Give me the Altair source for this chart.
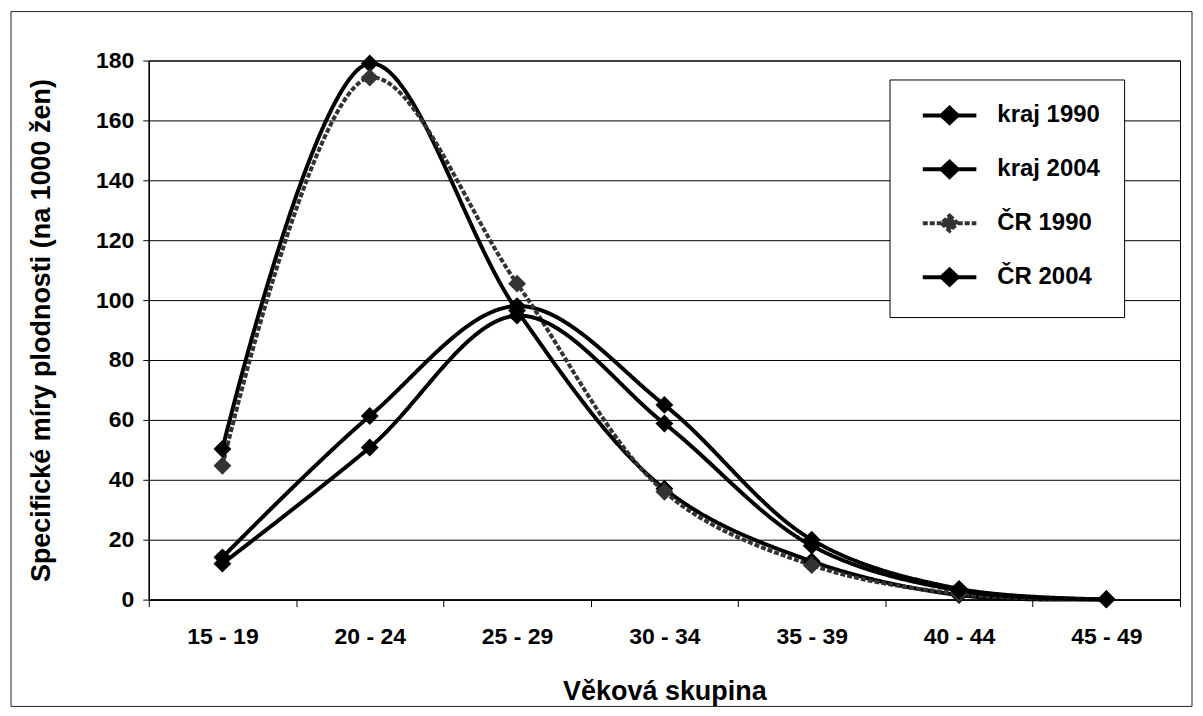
import altair as alt
import pandas as pd

groups = ["15 - 19", "20 - 24", "25 - 29", "30 - 34", "35 - 39", "40 - 44", "45 - 49"]
series = ["kraj 1990", "kraj 2004", "ČR 1990", "ČR 2004"]
kraj_1990 = [50.3, 179.0, 96.5, 37.0, 12.8, 1.5, 0.1]
kraj_2004 = [14.1, 61.3, 98.0, 65.0, 20.0, 3.6, 0.1]
cr_1990 = [44.7, 174.3, 105.5, 36.0, 11.5, 1.9, 0.1]
cr_2004 = [12.0, 50.8, 94.8, 58.8, 18.0, 3.0, 0.1]

rows = []
for s, vals in zip(series, [kraj_1990, kraj_2004, cr_1990, cr_2004]):
    for g, v in zip(groups, vals):
        rows.append({"grp": g, "series": s, "value": v})
df = pd.DataFrame(rows)

FONT = "Liberation Sans"
WEIGHT = "bold"
W, H = 1033, 540

x_enc = alt.X(
    "grp:N", sort=groups, bandPosition=0.5,
    scale=alt.Scale(type="band", paddingInner=0, paddingOuter=0),
    axis=alt.Axis(title="Věková skupina", tickBand="extent", labelAngle=0,
                  tickSize=7, labelPadding=19, titlePadding=30, grid=False,
                  labelFontSize=23, titleFontSize=27),
)
y_enc = alt.Y(
    "value:Q", scale=alt.Scale(domain=[0, 180]),
    axis=alt.Axis(title="Specifické míry plodnosti (na 1000 žen)", values=list(range(0, 181, 20)),
                  tickSize=6, labelPadding=9, titlePadding=40, grid=True,
                  labelFontSize=23, titleFontSize=27),
)

legend_path = "M-0.3,0H5.7M2.7,-0.85L3.6,0L2.7,0.85L1.8,0Z"

color_range = ["black", "black", "#333333", "black"]
color_enc = alt.Color(
    "series:N",
    scale=alt.Scale(domain=series, range=color_range),
    legend=alt.Legend(orient="none", legendX=742, legendY=19, title=None,
                      symbolType=legend_path, symbolSize=400, symbolFillColor="black",
                      labelFontSize=24, labelOffset=60, rowPadding=22, padding=24,
                      labelExpr="datum.label + '\u00a0\u00a0'",
                      strokeColor="black", fillColor="white", labelFont=FONT,
                      labelFontWeight=WEIGHT, labelColor="black"),
)
sw_enc = alt.StrokeWidth(
    "series:N", scale=alt.Scale(domain=series, range=[4, 4, 1.2, 4]), legend=None)
dash_enc = alt.StrokeDash(
    "series:N", scale=alt.Scale(domain=series, range=[[1, 0], [1, 0], [5, 2], [1, 0]]), legend=None)

lines = alt.Chart(df).mark_line(interpolate="catmull-rom").encode(
    x=x_enc, y=y_enc, color=color_enc, strokeWidth=sw_enc, strokeDash=dash_enc,
    detail="series:N",
)
points = alt.Chart(df).mark_point(filled=True, shape="diamond", opacity=1).encode(
    x=x_enc, y=y_enc,
    color=alt.Color("series:N", scale=alt.Scale(domain=series, range=["black", "black", "#555555", "black"]), legend=None),
    size=alt.Size("series:N", scale=alt.Scale(domain=series, range=[320, 320, 110, 320]), legend=None),
)
frame = alt.Chart(alt.Data(values=[{"a": 1}])).mark_rect(
    filled=False, stroke="#222222", strokeWidth=1
).encode(x=alt.value(-138), x2=alt.value(1045), y=alt.value(-49), y2=alt.value(647))

chart = alt.layer(frame, lines, points).properties(
    width=W, height=H, padding=2, background="white"
).configure_view(stroke="black", strokeWidth=1).configure_axis(
    labelFont=FONT, titleFont=FONT, labelColor="black", titleColor="black",
    labelFontWeight=WEIGHT, titleFontWeight=WEIGHT,
    domainColor="black", tickColor="black",
    gridColor="black", gridWidth=1, domainWidth=1.5,
).configure_legend(labelFont=FONT)

chart.save("out.html", embed_options={"renderer": "svg", "actions": False})
